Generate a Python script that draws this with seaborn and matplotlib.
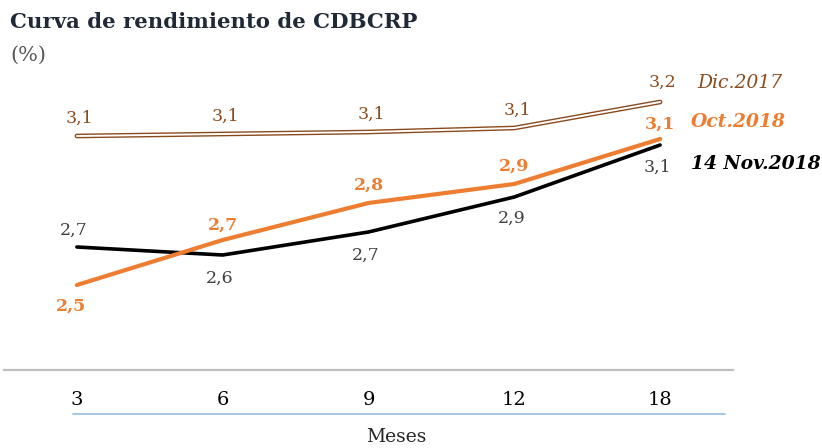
import numpy as np
import pandas as pd
import matplotlib
matplotlib.use("Agg")
import matplotlib.pyplot as plt
import seaborn as sns
from matplotlib.lines import Line2D

# data
plazos = ["3", "6", "9", "12", "18"]
dic_2017 = [3.10, 3.108, 3.116, 3.132, 3.236]
oct_2018 = [2.504, 2.684, 2.832, 2.908, 3.088]
nov_2018 = [2.656, 2.624, 2.716, 2.856, 3.064]

brown = "#8B4A1C"
orange = "#ED7D31"
grey_txt = "#404040"

sns.set_theme(style="white")
plt.rcParams['font.family'] = ['DejaVu Serif', 'DejaVu Sans']

df = pd.DataFrame({"plazo": plazos, "pos": np.arange(len(plazos)),
                   "dic": dic_2017, "oct": oct_2018, "nov": nov_2018})

fig = plt.figure(figsize=(8.22, 4.48), dpi=100)
W, H = 822, 448
ax = fig.add_axes([4 / W, (H - 370) / H, 729 / W, 290 / H])

# Dic.2017 - double line (brown outline, white core)
sns.lineplot(data=df, x="pos", y="dic", color=brown, lw=3.4, ax=ax)
sns.lineplot(data=df, x="pos", y="dic", color="white", lw=1.4, ax=ax)
sns.lineplot(data=df, x="pos", y="nov", color="black", lw=2.6, ax=ax)
sns.lineplot(data=df, x="pos", y="oct", color=orange, lw=3.0, ax=ax)

ax.set_xlim(-0.5, 4.5)
ax.set_ylim(2.164, 3.324)

def fmt(v):
    return f"{v:.1f}".replace(".", ",")

# data labels: offsets in points (dy positive = up)
dic_dy = [13, 13, 13, 13, 14]
oct_dy = [-15, 11, 13, 13, 11]
nov_dy = [12, -17, -17, -15, -16]
for i in range(len(plazos)):
    ax.annotate(fmt(dic_2017[i]), (i, dic_2017[i]), xytext=(2, dic_dy[i]),
                textcoords="offset points", ha="center", va="center",
                color=brown, fontsize=12.5)
    ax.annotate(fmt(oct_2018[i]), (i, oct_2018[i]), xytext=(-4 if i == 0 else 0, oct_dy[i]),
                textcoords="offset points", ha="center", va="center",
                color=orange, fontsize=12.5, fontweight="bold")
    ax.annotate(fmt(nov_2018[i]), (i, nov_2018[i]), xytext=(-2, nov_dy[i]),
                textcoords="offset points", ha="center", va="center",
                color=grey_txt, fontsize=12.5)

# series names at the right end
ax.annotate("Dic.2017", (4, dic_2017[-1]), xytext=(27, 14), textcoords="offset points",
            ha="left", va="center", color=brown, fontsize=13.5, style="italic")
ax.annotate("Oct.2018", (4, oct_2018[-1]), xytext=(22, 12), textcoords="offset points",
            ha="left", va="center", color=orange, fontsize=13.5, style="italic",
            fontweight="bold")
ax.annotate("14 Nov.2018", (4, nov_2018[-1]), xytext=(22, -14), textcoords="offset points",
            ha="left", va="center", color="black", fontsize=13.5, style="italic",
            fontweight="bold")

ax.set_xticks(df["pos"])
ax.set_xticklabels(plazos, fontsize=14, color="black")
ax.set_yticks([])
ax.tick_params(axis="x", length=0, pad=15)
for s in ["top", "right", "left"]:
    ax.spines[s].set_visible(False)
ax.spines["bottom"].set_color("#BFBFBF")
ax.spines["bottom"].set_linewidth(1.6)
ax.set_xlabel("")
ax.set_ylabel("")

# light blue rule under the tick labels
fig.add_artist(Line2D([73 / W, 725 / W], [(H - 414) / H] * 2, color="#9DC3E6", lw=1.3))

fig.text(396 / W, (H - 437) / H, "Meses", ha="center", va="center", fontsize=13.5)
fig.text(10 / W, (H - 22) / H, "Curva de rendimiento de CDBCRP", ha="left", va="center",
         fontsize=15.3, fontweight="bold", color="#1F2937")
fig.text(10 / W, (H - 55) / H, "(%)", ha="left", va="center", fontsize=15, color="#595959")

fig.savefig("out.png", dpi=100)
